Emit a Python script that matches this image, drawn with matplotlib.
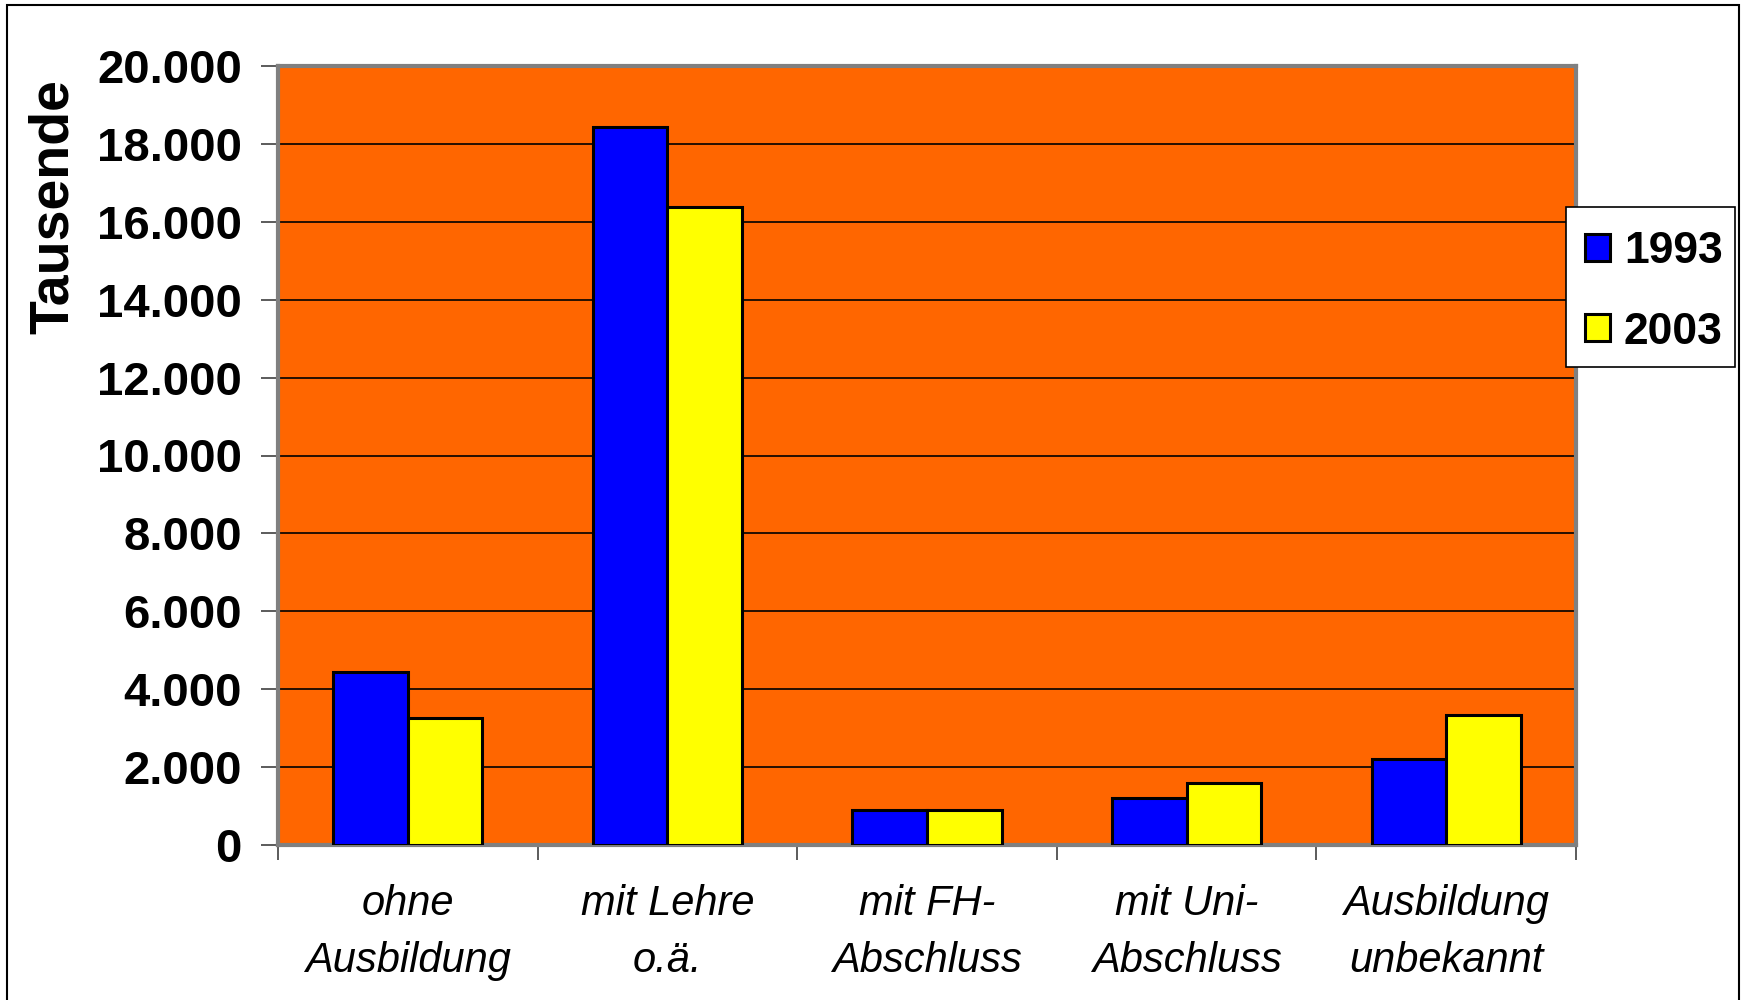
import matplotlib
matplotlib.use("Agg")
import matplotlib.pyplot as plt
import numpy as np
from matplotlib.patches import Rectangle

categories = ["ohne\nAusbildung", "mit Lehre\no.ä.", "mit FH-\nAbschluss", "mit Uni-\nAbschluss", "Ausbildung\nunbekannt"]
series_names = ["1993", "2003"]
values_1993 = [4450, 18430, 900, 1200, 2200]
values_2003 = [3250, 16380, 900, 1600, 3350]
yticks = [0, 2000, 4000, 6000, 8000, 10000, 12000, 14000, 16000, 18000, 20000]
ytick_labels = ["0", "2.000", "4.000", "6.000", "8.000", "10.000", "12.000", "14.000", "16.000", "18.000", "20.000"]

plt.rcParams['font.family'] = ['Liberation Sans', 'DejaVu Sans']

W, H = 1743, 1000
fig = plt.figure(figsize=(17.43, 10), dpi=100)
fig.patch.set_facecolor("white")
# outer chart border
fig.patches.append(Rectangle((7/W, -0.01), (1739-7)/W, 1.0 - 5/H + 0.01,
                             transform=fig.transFigure, fill=False, edgecolor="black", linewidth=1.5))

ax = fig.add_axes([278/W, 1-845/H, (1576-278)/W, (845-66)/H])
ax.set_facecolor("#FF6600")

x = np.arange(len(categories))
bw = 0.287
b1 = ax.bar(x - bw/2, values_1993, bw, color="#0000FF", edgecolor="black", linewidth=2.2, label=series_names[0], zorder=3)
b2 = ax.bar(x + bw/2, values_2003, bw, color="#FFFF00", edgecolor="black", linewidth=2.2, label=series_names[1], zorder=3)

ax.set_xlim(-0.5, len(categories) - 0.5)
ax.set_ylim(0, 20000)
ax.set_yticks(yticks)
ax.set_yticklabels(ytick_labels, fontsize=34, fontweight="bold")
ax.yaxis.grid(True, color="black", linewidth=1.2, zorder=1)
ax.set_axisbelow(True)

ax.set_xticks(x)
ax.set_xticklabels(categories, fontsize=30, fontstyle="italic", linespacing=1.55)
ax.tick_params(axis="x", which="major", length=0, pad=28)
ax.set_xticks(np.arange(-0.5, len(categories), 1.0), minor=True)
ax.tick_params(axis="x", which="minor", length=11, width=1.2, color="#404040", direction="out")
ax.tick_params(axis="y", length=12, width=1.2, color="#404040", direction="out", pad=14)

for s in ["top", "right", "bottom", "left"]:
    ax.spines[s].set_color("#808080")
    ax.spines[s].set_linewidth(3)

ax.set_ylabel("Tausende", fontsize=40, fontweight="bold")
ax.yaxis.set_label_coords(-0.153, 0.82)

# legend box
lx0, ly0, lx1, ly1 = 1566, 207, 1735, 367
fig.patches.append(Rectangle((lx0/W, 1-ly1/H), (lx1-lx0)/W, (ly1-ly0)/H, transform=fig.transFigure,
                             facecolor="white", edgecolor="black", linewidth=1.2, zorder=4))
leg = fig.legend(handles=[b1, b2], labels=series_names, loc="center",
                 bbox_to_anchor=((lx0+lx1)/2/W + 0.002, 1-((ly0+ly1)/2 + 5)/H), bbox_transform=fig.transFigure,
                 prop={"weight": "bold", "size": 32}, frameon=False,
                 handlelength=0.55, handleheight=0.55,
                 handletextpad=0.32, labelspacing=0.88, borderpad=0.0, borderaxespad=0)
leg.set_zorder(5)

fig.savefig("out.png", dpi=100, facecolor="white")
